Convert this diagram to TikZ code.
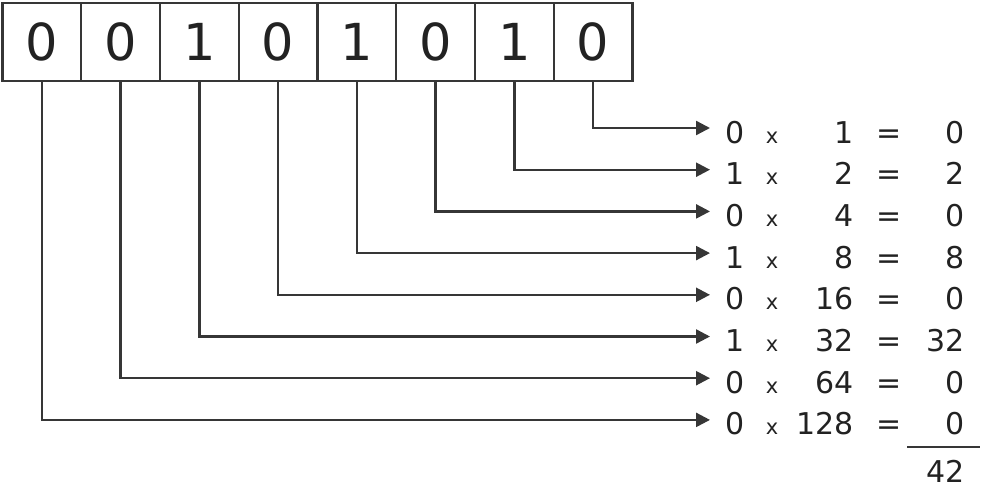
\documentclass[tikz,border=0pt]{standalone}
\usepackage{fontspec}
\setmainfont{DejaVu Sans}
\usetikzlibrary{arrows.meta}
\definecolor{ink}{HTML}{222222}
\definecolor{wire}{HTML}{363636}

\begin{document}
\begin{tikzpicture}[x=1pt,y=-1pt,
        bitbox/.style={draw=wire,line width=2.4pt,minimum width=78.75pt,minimum height=78pt,inner sep=0pt,text=ink,font=\fontsize{51}{51}\selectfont},
        conn/.style={draw=wire,line width=2.4pt,-{Triangle[length=14pt,width=14pt]}},
        rowtxt/.style={anchor=base,inner sep=0pt,text=ink,font=\fontsize{30}{30}\selectfont},
        timestxt/.style={anchor=base,inner sep=0pt,text=ink,font=\fontsize{21}{21}\selectfont}]
                \useasboundingbox (0,0) rectangle (982,487);
                \foreach \i/\bit/\w/\res in {1/0/128/0,2/0/64/0,3/1/32/32,4/0/16/0,5/1/8/8,6/0/4/0,7/1/2/2,8/0/1/0}{
                    \node[bitbox] (b\i) at ({2.5+78.75*(\i-0.5)},42) {\bit};
                    \pgfmathsetmacro{\rowy}{128+41.7*(8-\i)}
                    \coordinate (tip\i) at (710,\rowy);
                    \node[rowtxt] (d\i) at (735.5,\rowy+15) {\bit};
                    \node[timestxt] (x\i) at (772,\rowy+15) {x};
                    \node[rowtxt,anchor=base east] (w\i) at (854,\rowy+15) {\w};
                    \node[rowtxt] (eq\i) at (889,\rowy+15) {=};
                    \node[rowtxt,anchor=base east] (r\i) at (965,\rowy+15) {\res};
                    \draw[conn] (b\i.south) |- (tip\i);
                }
                \coordinate (rulel) at (907,447);
                \coordinate (ruler) at (980,447);
                \draw[wire,line width=2.4pt] (rulel) -- (ruler);
                \node[rowtxt,anchor=base east] (total) at (965,482) {42};
            \end{tikzpicture}
\end{document}
